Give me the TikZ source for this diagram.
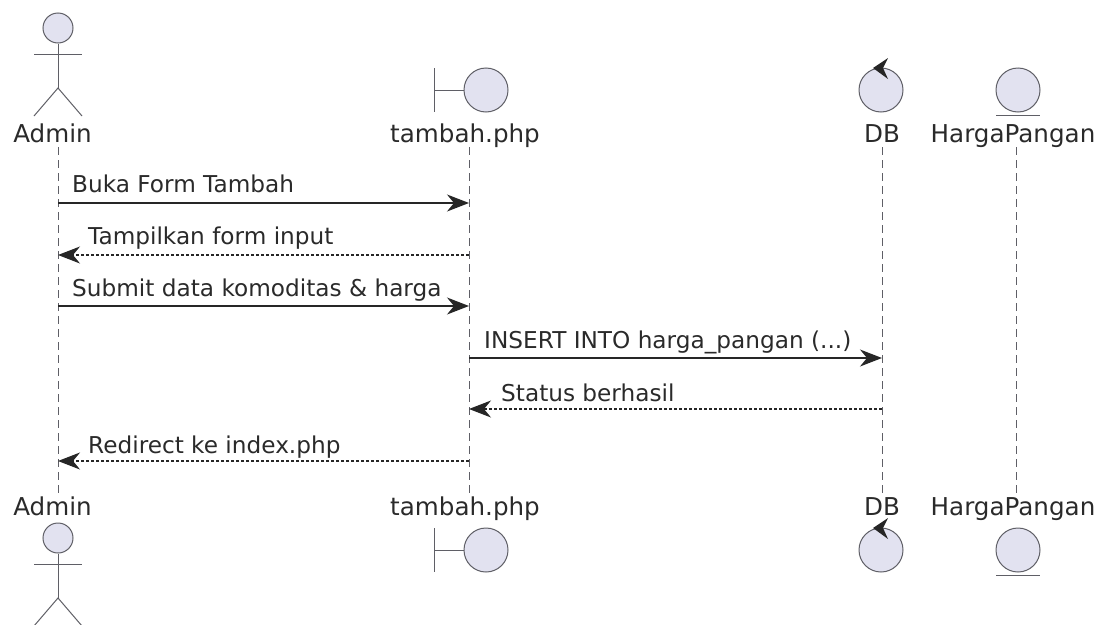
\documentclass[tikz,border=0pt]{standalone}
\usepackage{fontspec}
\usepackage{tikz}
\usetikzlibrary{arrows.meta}
\setmainfont{DejaVu Sans}
\definecolor{umlfill}{HTML}{E2E2F0}
\definecolor{umlline}{HTML}{5F5F66}
\definecolor{umltext}{HTML}{2A2A2A}
\tikzstyle{lifeline}=[draw=umlline,line width=0.8pt,dash pattern=on 8pt off 5pt]
\tikzstyle{glyph}=[draw=umlline,line width=1pt]
\tikzstyle{bighead}=[circle,draw=umlline,fill=umlfill,line width=1pt,inner sep=0pt,minimum size=44pt]
\tikzstyle{smallhead}=[bighead,minimum size=30pt]
\tikzstyle{party}=[inner sep=0pt,anchor=base,text=umltext,font=\fontsize{24.6}{29}\selectfont]
\tikzstyle{msgtext}=[inner sep=0pt,anchor=base west,text=umltext,font=\fontsize{23.2}{28}\selectfont]
\tikzstyle{call}=[draw=black!85,line width=1.3pt,-{Stealth[length=22pt,width=17pt,inset=7pt]}]
\tikzstyle{reply}=[call,dash pattern=on 3pt off 2pt,line width=1.1pt]
\tikzstyle{spin}=[fill=black!85,draw=none]

\begin{document}
\begin{tikzpicture}[x=1pt,y=-1pt]
\useasboundingbox (0,0) rectangle (1106,624);
% lifelines
\foreach \who/\xx in {admin/58,tambah/469,db/882,harga/1016} {
    \coordinate (\who Top) at (\xx,147);
    \coordinate (\who Bot) at (\xx,495);
    \draw [lifeline] (\who Top) -- (\who Bot);
}
% names, top and bottom row
\foreach \row/\yy in {T/142,B/515} {
    \node [party] (adminName\row) at (52.5,\yy) {Admin};
    \node [party] (tambahName\row) at (465,\yy) {tambah.php};
    \node [party] (dbName\row) at (882,\yy) {DB};
    \node [party] (hargaName\row) at (1013,\yy) {HargaPangan};
}
% actor
\foreach \row/\yy in {T/0,B/510} {
    \node [smallhead] (adminHead\row) at (58,28+\yy) {};
    \coordinate (armL\row) at (34,54+\yy);
    \coordinate (armR\row) at (82,54+\yy);
    \coordinate (hip\row) at (58,88+\yy);
    \coordinate (legL\row) at (34,116+\yy);
    \coordinate (legR\row) at (82,116+\yy);
    \draw [glyph] (adminHead\row) -- (hip\row);
    \draw [glyph] (armL\row) -- (armR\row);
    \draw [glyph] (legL\row) -- (hip\row) -- (legR\row);
}
% boundary, control, entity
\foreach \row/\yy in {T/0,B/460} {
    \node [bighead] (tambahHead\row) at (486,90+\yy) {};
    \coordinate (barTop\row) at (434,68+\yy);
    \coordinate (barBot\row) at (434,112+\yy);
    \coordinate (barMid\row) at (434,90+\yy);
    \draw [glyph] (barTop\row) -- (barBot\row);
    \draw [glyph] (barMid\row) -- (tambahHead\row);
    \node [bighead] (dbHead\row) at (881,90+\yy) {};
    \fill [spin] (873,68+\yy) -- (888,58+\yy) -- (883,68+\yy) -- (888,79+\yy) -- cycle;
    \node [bighead] (hargaHead\row) at (1018,90+\yy) {};
    \coordinate (lineL\row) at (996,115+\yy);
    \coordinate (lineR\row) at (1040,115+\yy);
    \draw [glyph] (lineL\row) -- (lineR\row);
}
% messages
\coordinate (m1a) at (58,203);
\coordinate (m1b) at (469,203);
\coordinate (m2a) at (58,255);
\coordinate (m2b) at (469,255);
\coordinate (m3a) at (58,306);
\coordinate (m3b) at (469,306);
\coordinate (m4a) at (469,358);
\coordinate (m4b) at (882,358);
\coordinate (m5a) at (469,409);
\coordinate (m5b) at (882,409);
\coordinate (m6a) at (58,461);
\coordinate (m6b) at (469,461);
\draw [call] (m1a) -- (m1b);
\draw [reply] (m2b) -- (m2a);
\draw [call] (m3a) -- (m3b);
\draw [call] (m4a) -- (m4b);
\draw [reply] (m5b) -- (m5a);
\draw [reply] (m6b) -- (m6a);
\node [msgtext] (m1text) at (72,192) {Buka Form Tambah};
\node [msgtext] (m2text) at (88,244) {Tampilkan form input};
\node [msgtext] (m3text) at (72,296) {Submit data komoditas \& harga};
\node [msgtext] (m4text) at (484,348) {INSERT INTO harga\_pangan (...)};
\node [msgtext] (m5text) at (501,401) {Status berhasil};
\node [msgtext] (m6text) at (88,453) {Redirect ke index.php};
\end{tikzpicture}
\end{document}
